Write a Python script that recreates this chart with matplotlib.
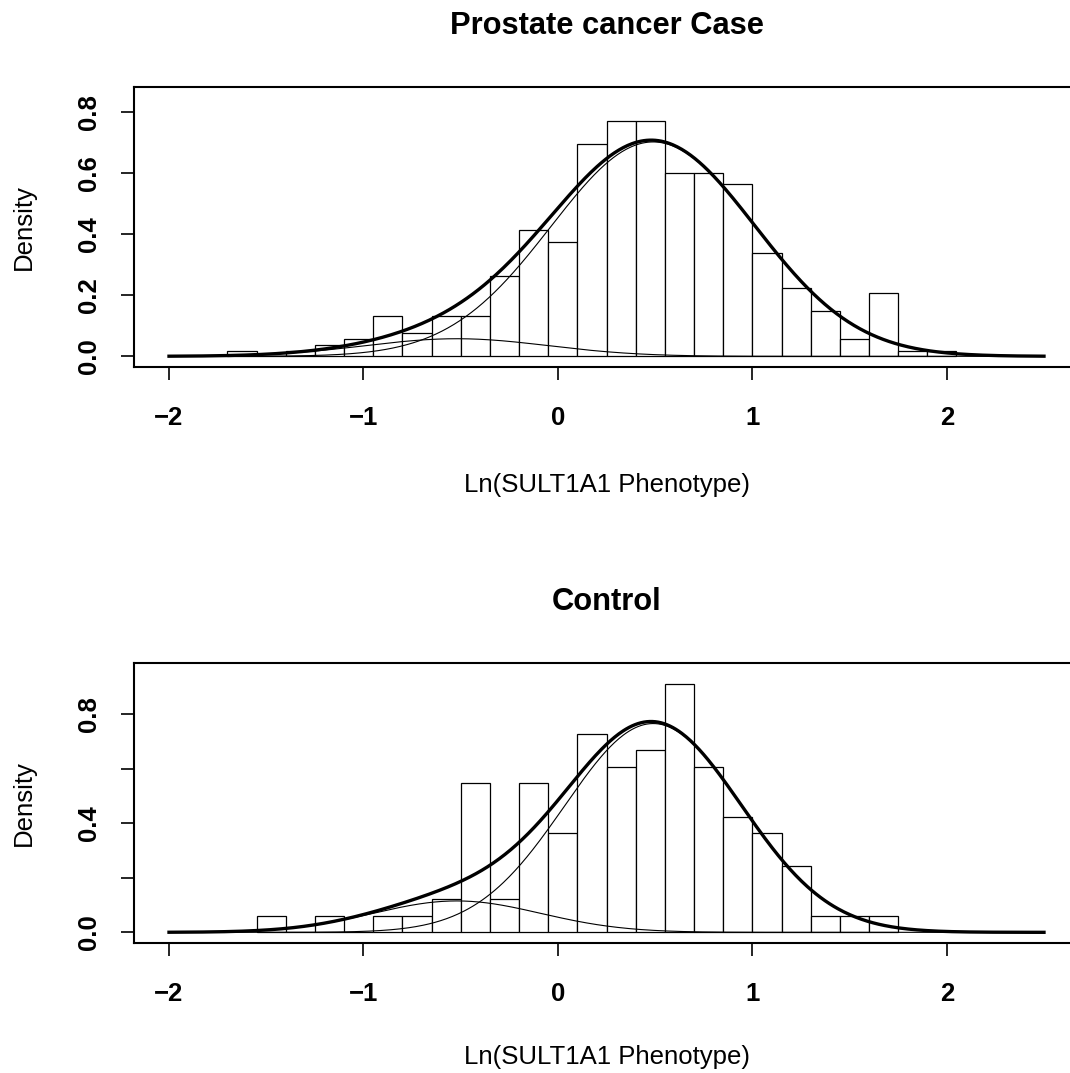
import numpy as np
import matplotlib
matplotlib.use("Agg")
import matplotlib.pyplot as plt

plt.rcParams['font.family'] = ['Liberation Sans', 'DejaVu Sans']

# ---------------- data ----------------
bin_width = 0.15
case_bin_left = [-1.70, -1.55, -1.40, -1.25, -1.10, -0.95, -0.80, -0.65, -0.50, -0.35,
                 -0.20, -0.05, 0.10, 0.25, 0.40, 0.55, 0.70, 0.85, 1.00, 1.15,
                 1.30, 1.45, 1.60, 1.75, 1.90]
case_counts = [1, 0, 1, 2, 3, 7, 4, 7, 7, 14,
               22, 20, 37, 41, 41, 32, 32, 30, 18, 12,
               8, 3, 11, 1, 1]

control_bin_left = [-1.55, -1.40, -1.25, -1.10, -0.95, -0.80, -0.65, -0.50, -0.35,
                    -0.20, -0.05, 0.10, 0.25, 0.40, 0.55, 0.70, 0.85, 1.00, 1.15,
                    1.30, 1.45, 1.60]
control_counts = [1, 0, 1, 0, 1, 1, 2, 9, 2, 9, 6, 12, 10, 11, 15, 10, 7, 6, 4, 1, 1, 1]

# two-component normal mixture fits: weights, means, sds
case_weights = [0.925, 0.068]
case_means = [0.49, -0.52]
case_sds = [0.525, 0.47]

control_weights = [0.8725, 0.124]
control_means = [0.49, -0.52]
control_sds = [0.455, 0.43]

titles = ["Prostate cancer Case", "Control"]
xlabel = "Ln(SULT1A1 Phenotype)"
ylabel = "Density"
xticks = [-2, -1, 0, 1, 2]
xticklabels = ["\u22122", "\u22121", "0", "1", "2"]
yticks_top = [0.0, 0.2, 0.4, 0.6, 0.8]
yticklabels_top = ["0.0", "0.2", "0.4", "0.6", "0.8"]
yticks_bot = [0.0, 0.2, 0.4, 0.6, 0.8]
yticklabels_bot = ["0.0", "", "0.4", "", "0.8"]
curve_range = (-2.0, 2.5)

# ---------------- figure ----------------
W, H = 1070, 1073
fig = plt.figure(figsize=(W / 100, H / 100), dpi=100)


def px_axes(left, right, top, bottom):
    return fig.add_axes([left / W, 1 - bottom / H, (right - left) / W, (bottom - top) / H])


def npdf(x, m, s):
    return np.exp(-0.5 * ((x - m) / s) ** 2) / (s * np.sqrt(2 * np.pi))


def panel(ax, lefts, counts, w, mu, sd, ylim, yt, ytl):
    counts = np.asarray(counts, float)
    dens = counts / (counts.sum() * bin_width)
    ax.bar(lefts, dens, width=bin_width, align='edge', facecolor='white',
           edgecolor='black', linewidth=0.9, zorder=1)
    xs = np.linspace(curve_range[0], curve_range[1], 600)
    comps = [wi * npdf(xs, mi, si) for wi, mi, si in zip(w, mu, sd)]
    for c in comps:
        ax.plot(xs, c, color='black', linewidth=0.8, zorder=2)
    ax.plot(xs, sum(comps), color='black', linewidth=2.4, zorder=3)
    ax.set_xlim(-2.18, 2.68)
    ax.set_ylim(*ylim)
    ax.set_xticks(xticks)
    ax.set_xticklabels(xticklabels)
    ax.set_yticks(yt)
    ax.set_yticklabels(ytl, rotation=90, va='center')
    for sp in ax.spines.values():
        sp.set_linewidth(1.5)
    ax.tick_params(direction='out', length=9.5, width=1.2, labelsize=18.5)
    ax.tick_params(axis='x', pad=19)
    ax.tick_params(axis='y', pad=14)
    for lab in ax.get_xticklabels() + ax.get_yticklabels():
        lab.set_fontweight('bold')


ax1 = px_axes(134, 1079, 86.7, 366.7)
panel(ax1, case_bin_left, case_counts, case_weights, case_means, case_sds,
      (-0.034, 0.884), yticks_top, yticklabels_top)
ax2 = px_axes(134, 1079, 662.7, 942.7)
panel(ax2, control_bin_left, control_counts, control_weights, control_means, control_sds,
      (-0.038, 0.988), yticks_bot, yticklabels_bot)

cx = 606.5 / W
fig.text(cx, 1 - 26 / H, titles[0], ha='center', va='center', fontsize=22.2, fontweight='bold')
fig.text(cx, 1 - 602 / H, titles[1], ha='center', va='center', fontsize=22.2, fontweight='bold')
fig.text(cx, 1 - 485 / H, xlabel, ha='center', va='center', fontsize=18.5)
fig.text(cx, 1 - 1057 / H, xlabel, ha='center', va='center', fontsize=18.5)
fig.text(24 / W, 1 - 226.7 / H, ylabel, ha='center', va='center', rotation=90, fontsize=18.5)
fig.text(24 / W, 1 - 802.7 / H, ylabel, ha='center', va='center', rotation=90, fontsize=18.5)

fig.savefig("out.png", dpi=100)
